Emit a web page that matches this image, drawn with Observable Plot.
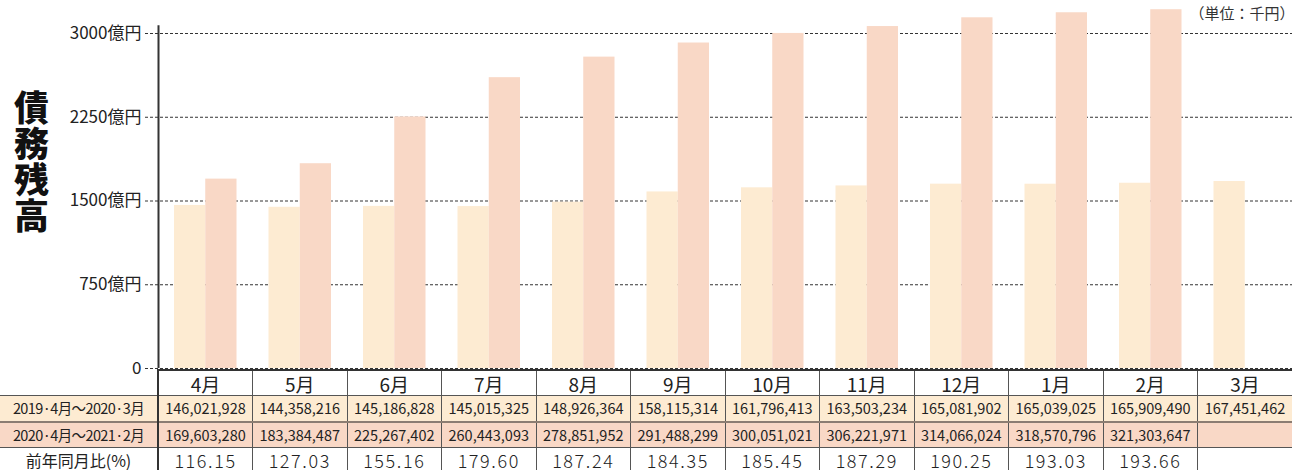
<!DOCTYPE html>
<html><head><meta charset="utf-8">
<script src="https://cdn.jsdelivr.net/npm/d3@7"></script>
<script src="https://cdn.jsdelivr.net/npm/@observablehq/plot@0.6"></script>
<style>
body{margin:0;background:#fff;font-family:"Noto Sans CJK JP","Noto Sans",sans-serif;}
#wrap{width:1292px;position:relative;}
#wrap svg{display:block;}
#ylab{position:absolute;left:12px;top:90px;width:38px;writing-mode:vertical-rl;text-orientation:upright;font-size:35px;font-weight:900;line-height:38px;letter-spacing:1px;color:#111;font-family:"Noto Sans CJK JP",sans-serif;}
table{border-collapse:collapse;table-layout:fixed;width:1292px;color:#222;font-family:"Noto Sans CJK JP","Noto Sans",sans-serif;}
td{padding:0;text-align:center;white-space:nowrap;overflow:hidden;line-height:1;}
tr.head td{height:24px;font-size:19px;border-top:2px solid #333;border-left:1px solid #555;}
tr.head td.lab{border-top:none;border-left:none;}
tr.r1 td{height:25px;font-size:14.5px;background:#FDEBD2;border-top:1px solid #555;border-left:1px solid #555;}
tr.r2 td{height:24px;font-size:14.5px;background:#F9D8C6;border-top:2px solid #8c7d72;border-left:1px solid #555;}
tr.r3 td{height:23px;font-size:18px;font-weight:300;letter-spacing:1.6px;background:#fff;border-top:1px solid #555;border-left:1px solid #555;}
td.lab{border-left:none !important;font-size:14.5px !important;letter-spacing:-0.6px !important;border-right:2px solid #333;}
tr.r3 td.lab{font-size:16px !important;letter-spacing:0 !important;font-weight:400;}
</style></head><body><div id="wrap"></div>
<script>
const months = ["4月","5月","6月","7月","8月","9月","10月","11月","12月","1月","2月","3月"];
const prevYear = [146021928,144358216,145186828,145015325,148926364,158115314,161796413,163503234,165081902,165039025,165909490,167451462];
const currYear = [169603280,183384487,225267402,260443093,278851952,291488299,300051021,306221971,314066024,318570796,321303647,null];
const ratio = ["116.15","127.03","155.16","179.60","187.24","184.35","185.45","187.29","190.25","193.03","193.66",""];
const rowLabels = ["2019·4月〜2020·3月","2020·4月〜2021·2月","前年同月比(%)"];
const yTicks = [0,750,1500,2250,3000];
const unitLabel = "（単位：千円）";
const yLabel = "債務残高";
const colorPrev = "#FDEBD2";
const colorCurr = "#F9D8C6";

const prevData = months.map((m,i)=>({month:m, v:prevYear[i]}));
const currData = months.map((m,i)=>({month:m, v:currYear[i]})).filter(d=>d.v!=null);
const toOku = d => d.v/1e5; // 千円 → 億円

const chart = Plot.plot({
  width:1292, height:369,
  marginLeft:158, marginRight:0, marginTop:33, marginBottom:1,
  x:{domain:months, type:"band", padding:0, round:false, axis:null},
  y:{domain:[0,3000], axis:null},
  style:{fontFamily:'"Noto Sans CJK JP","Noto Sans",sans-serif', color:"#222", background:"#fff", overflow:"visible"},
  marks:[
    Plot.ruleY(yTicks, {stroke:"#333", strokeDasharray:"3,2", strokeWidth:1, insetLeft:-13}),
    Plot.barY(prevData, {x:"month", y:toOku, fill:colorPrev, insetLeft:16, insetRight:47.25}),
    Plot.barY(currData, {x:"month", y:toOku, fill:colorCurr, insetLeft:47.25, insetRight:16}),
    Plot.ruleX([months[0]], {x:d=>d, y1:0, y2:3070, dx:-47.25, stroke:"#333", strokeWidth:2}),
    Plot.text(yTicks, {y:d=>d, text:d=>d===0?"0":d+"億円", frameAnchor:"left", dx:-17, textAnchor:"end", fontSize:17, fill:"#222"}),
    Plot.text([unitLabel], {frameAnchor:"top-right", dx:2, dy:-19, lineAnchor:"middle", textAnchor:"end", fontSize:15, fill:"#333"})
  ]
});
const wrap = document.getElementById("wrap");
wrap.appendChild(chart);
d3.select(wrap).append("div").attr("id","ylab").text(yLabel);

const table = d3.select(wrap).append("table");
const cg = table.append("colgroup");
cg.append("col").style("width","158px");
months.forEach(()=>cg.append("col").style("width","94.5px"));
const fmt = v => v==null ? "" : d3.format(",")(v);
const rows = [
  {cls:"head", label:"", cells:months},
  {cls:"r1", label:rowLabels[0], cells:prevYear.map(fmt)},
  {cls:"r2", label:rowLabels[1], cells:currYear.map(fmt)},
  {cls:"r3", label:rowLabels[2], cells:ratio}
];
rows.forEach(r=>{
  const tr = table.append("tr").attr("class", r.cls);
  tr.append("td").attr("class","lab").text(r.label);
  r.cells.forEach(c=>tr.append("td").text(c));
});
</script></body></html>
